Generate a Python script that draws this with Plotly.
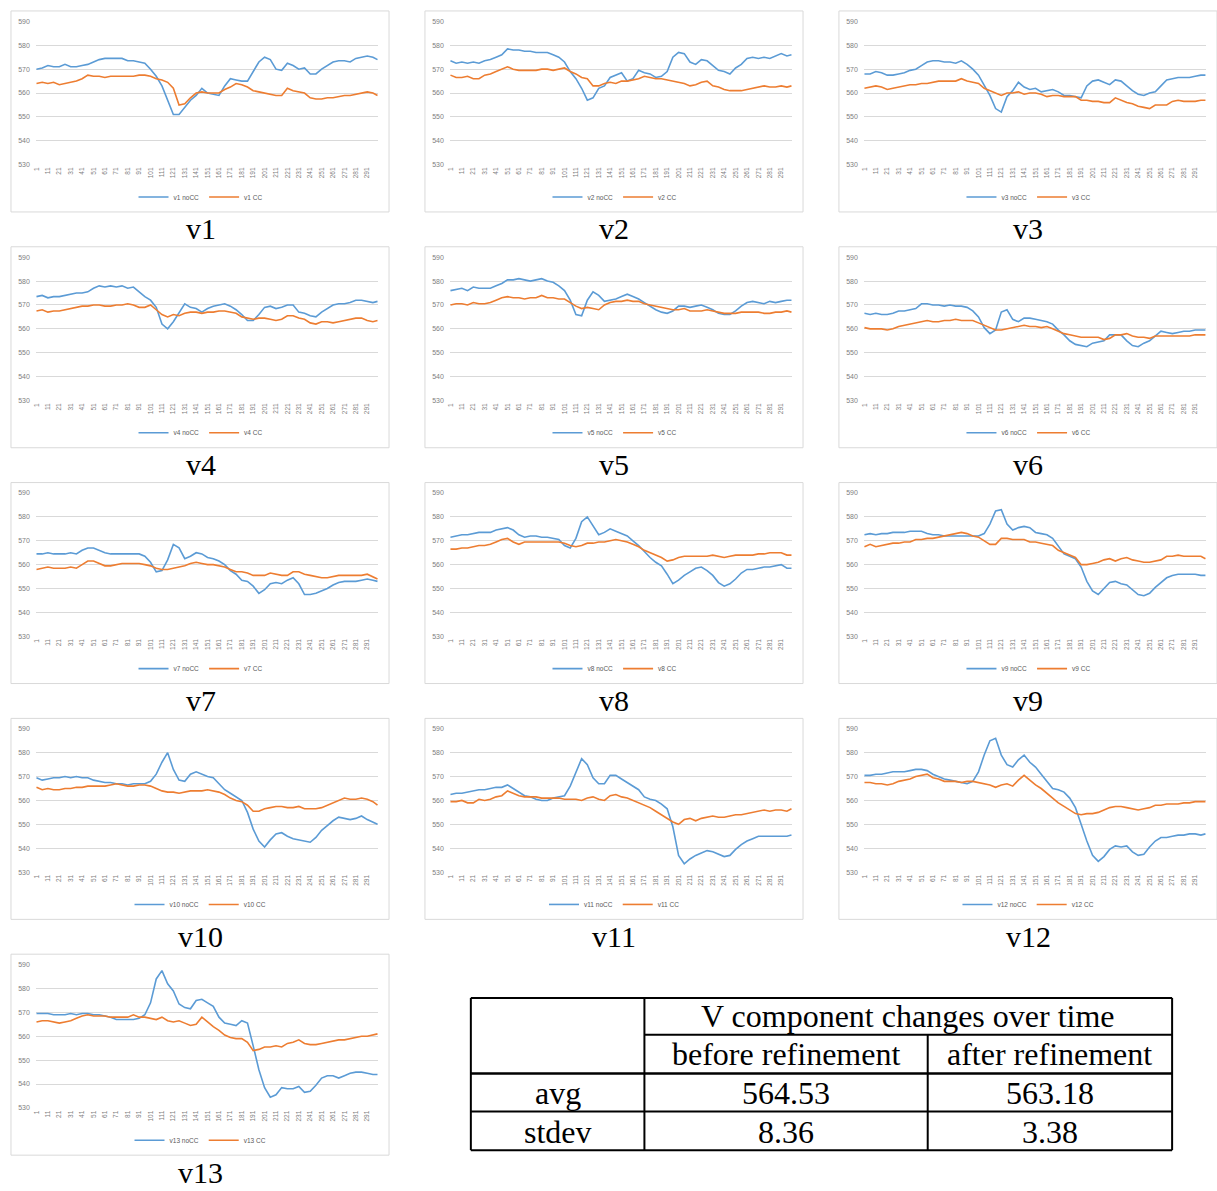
import plotly.graph_objects as go

W, H = 1217, 1191

# ---------------- data (every 5th sample) ----------------
SAMPLE_X = [1, 6, 11, 16, 21, 26, 31, 36, 41, 46,
            51, 56, 61, 66, 71, 76, 81, 86, 91, 96,
            101, 106, 111, 116, 121, 126, 131, 136, 141, 146,
            151, 156, 161, 166, 171, 176, 181, 186, 191, 196,
            201, 206, 211, 216, 221, 226, 231, 236, 241, 246,
            251, 256, 261, 266, 271, 276, 281, 286, 291, 296,
            300]
X_TICKS = [1, 11, 21, 31, 41, 51, 61, 71, 81, 91, 101, 111, 121, 131, 141,
           151, 161, 171, 181, 191, 201, 211, 221, 231, 241, 251, 261, 271, 281, 291]
Y_TICKS = [530, 540, 550, 560, 570, 580, 590]
PANEL_NAMES = ["v1", "v2", "v3", "v4", "v5", "v6", "v7", "v8", "v9", "v10", "v11", "v12", "v13"]

V1_NOCC = [570, 570.5, 571.5, 571, 571, 572, 571, 571, 571.5, 572,
           573, 574, 574.5, 574.5, 574.5, 574.5, 573.5, 573.5, 573, 572.5,
           570, 567, 563, 557, 551, 551, 554, 557, 559, 562,
           560, 559.5, 559, 563, 566, 565.5, 565, 565, 569, 573,
           575, 574, 570, 569.5, 572.5, 571.5, 570, 570.5, 568, 568,
           570, 571.5, 573, 573.5, 573.5, 573, 574.5, 575, 575.5, 575,
           574]
V1_CC = [564, 564.5, 564, 564.5, 563.5, 564, 564.5, 565, 566, 567.5,
         567, 567, 566.5, 567, 567, 567, 567, 567, 567.5, 567.5,
         567, 566, 565.5, 564.5, 562, 555, 555.5, 558, 560, 560.5,
         560, 560, 560, 561.5, 562.5, 564, 563.5, 562.5, 561, 560.5,
         560, 559.5, 559, 559, 562, 561, 560.5, 560, 558, 557.5,
         557.5, 558, 558, 558.5, 559, 559, 559.5, 560, 560.5, 560,
         559]
V2_NOCC = [573.5, 572.5, 573, 572.5, 573, 572.5, 573.5, 574, 575, 576,
           578.5, 578, 578, 577.5, 577.5, 577, 577, 577, 576, 575,
           573, 569, 566, 562, 557, 558, 562, 563, 566.5, 567.5,
           568.5, 565, 566, 569.5, 568.5, 568, 566.5, 567, 569, 575,
           577, 576.5, 573, 572, 574, 573.5, 571.5, 569.5, 569, 568,
           570.5, 572, 574.5, 575, 574.5, 575, 574.5, 575.5, 576.5, 575.5,
           576]
V2_CC = [567.5, 566.5, 566.5, 567, 566, 566, 567.5, 568, 569, 570,
         571, 570, 569.5, 569.5, 569.5, 569.5, 570, 570, 569.5, 570,
         570.5, 569, 568, 566.5, 566, 563, 563, 564, 564.5, 564,
         565, 565, 565.5, 566, 567, 566.5, 566, 566, 565.5, 565,
         564.5, 564, 563, 563.5, 564.5, 565, 563, 562.5, 561.5, 561,
         561, 561, 561.5, 562, 562.5, 563, 562.5, 562.5, 563, 562.5,
         563]
V3_NOCC = [568, 568, 569, 568.5, 567.5, 567.5, 568, 568.5, 569.5, 570,
           571.5, 573, 573.5, 573.5, 573, 573, 572.5, 573.5, 572, 570,
           567.5, 563, 559, 553.5, 552, 558.5, 561, 564.5, 562.5, 561.5,
           562, 560.5, 561, 561.5, 560.5, 559, 559, 558.5, 558, 563,
           565, 565.5, 564.5, 563.5, 565.5, 565, 563, 561, 559.5, 559,
           560, 560.5, 563, 565.5, 566, 566.5, 566.5, 566.5, 567, 567.5,
           567.5]
V3_CC = [562, 562.5, 563, 562.5, 561.5, 562, 562.5, 563, 563.5, 563.5,
         564, 564, 564.5, 565, 565, 565, 565, 566, 565, 564.5,
         564, 562, 561, 560, 559, 560, 560, 560.5, 559.5, 560,
         560, 559.5, 558.5, 559, 559, 558.5, 558.5, 558.5, 557, 557,
         556.5, 556.5, 556, 556, 558, 557, 556, 555.5, 554.5, 554,
         553.5, 555, 555, 555, 556.5, 557, 556.5, 556.5, 556.5, 557,
         557]
V4_NOCC = [573.5, 574, 573, 573.5, 573.5, 574, 574.5, 575, 575, 575.5,
           577, 578, 577.5, 578, 577.5, 578, 577, 577.5, 575.5, 573.5,
           572, 569, 562, 560, 563, 567, 570.5, 569, 568.5, 567,
           568.5, 569.5, 570, 570.5, 569.5, 568, 566, 563.5, 563.5, 566,
           569, 569.5, 568.5, 569, 570, 570, 567, 566.5, 565.5, 565,
           567, 568.5, 570, 570.5, 570.5, 571, 572, 572, 571.5, 571,
           571.5]
V4_CC = [567.5, 568, 567, 567.5, 567.5, 568, 568.5, 569, 569.5, 569.5,
         570, 570, 569.5, 569.5, 570, 570, 570.5, 570, 569, 569,
         570, 568, 566, 565, 566, 565.5, 566.5, 567, 567, 566.5,
         567, 567, 567.5, 567.5, 567, 566.5, 565, 564.5, 564, 564.5,
         564.5, 564, 563.5, 564, 565.5, 565.5, 564.5, 564, 562.5, 562,
         563, 563, 562.5, 563, 563.5, 564, 564.5, 564.5, 563.5, 563,
         563.5]
V5_NOCC = [576, 576.5, 577, 576, 577.5, 577, 577, 577, 578, 579,
           580.5, 580.5, 581, 580.5, 580, 580.5, 581, 580, 579.5, 578,
           576, 572, 566, 565.5, 572, 575.5, 574, 571.5, 572, 572.5,
           573.5, 574.5, 573.5, 572.5, 571, 569.5, 568, 567, 566.5, 567.5,
           569.5, 569.5, 569, 569.5, 570, 569, 568, 566.5, 566, 566,
           567.5, 569.5, 571, 571.5, 571, 570.5, 571.5, 571, 571.5, 572,
           572]
V5_CC = [570, 570.5, 570.5, 570, 571, 570.5, 570.5, 571, 572, 573,
         573.5, 573, 573, 572.5, 573, 573, 574, 573, 573, 572.5,
         572.5, 571, 569.5, 568.5, 569, 568.5, 568, 570, 571, 571.5,
         571.5, 572, 571.5, 571.5, 570.5, 570, 569.5, 569, 568.5, 568,
         568, 568.5, 567.5, 567.5, 567.5, 568, 567.5, 567, 566.5, 566.5,
         566.5, 567, 567, 567, 567, 566.5, 566.5, 567, 567, 567.5,
         567]
V6_NOCC = [566.5, 566, 566.5, 566, 566, 566.5, 567.5, 567.5, 568, 568.5,
           570.5, 570.5, 570, 570, 569.5, 570, 569.5, 569.5, 569, 567.5,
           565, 560.5, 558, 559.5, 567, 568, 564, 563, 564.5, 564.5,
           564, 563.5, 563, 562, 559.5, 557.5, 555, 553.5, 553, 552.5,
           554, 554.5, 555, 557.5, 557.5, 557.5, 555, 553, 552.5, 554,
           555, 557, 559, 558.5, 558, 558.5, 559, 559, 559.5, 559.5,
           559.5]
V6_CC = [560.5, 560, 560, 560, 559.5, 560, 561, 561.5, 562, 562.5,
         563, 563.5, 563, 563, 563.5, 563.5, 564, 563.5, 563.5, 563.5,
         562.5, 561.5, 560.5, 559.5, 559.5, 560, 560.5, 561, 561.5, 561,
         561, 560.5, 561, 560, 559, 558, 557.5, 557, 556.5, 556.5,
         556.5, 556.5, 555.5, 556, 557.5, 557.5, 558, 557, 556.5, 556.5,
         556, 557, 557, 557, 557, 557, 557, 557, 557.5, 557.5,
         557.5]
V7_NOCC = [564.5, 564.5, 565, 564.5, 564.5, 564.5, 565, 564.5, 566, 567,
           567, 566, 565, 564.5, 564.5, 564.5, 564.5, 564.5, 564.5, 563.5,
           561, 557, 557.5, 562, 568.5, 567, 562.5, 563.5, 565, 564.5,
           563, 562.5, 561.5, 560, 557.5, 556, 553.5, 553, 551, 548,
           549.5, 552, 552.5, 552, 553.5, 554.5, 552, 547.5, 547.5, 548,
           549, 550, 551.5, 552.5, 553, 553, 553, 553.5, 554, 553.5,
           553]
V7_CC = [558, 558.5, 559, 558.5, 558.5, 558.5, 559, 558.5, 560, 561.5,
         561.5, 560.5, 559.5, 559.5, 560, 560.5, 560.5, 560.5, 560.5, 560,
         559.5, 558.5, 558, 558, 558.5, 559, 559.5, 560.5, 561, 560.5,
         560, 560, 559.5, 559, 558, 557, 557, 556.5, 555.5, 555.5,
         555.5, 556.5, 556, 555.5, 555.5, 557, 557, 556, 555.5, 555,
         554.5, 554.5, 555, 555.5, 555.5, 555.5, 555.5, 555.5, 556, 555,
         554]
V8_NOCC = [571.5, 572, 572.5, 572.5, 573, 573.5, 573.5, 573.5, 574.5, 575,
           575.5, 574.5, 572.5, 571.5, 572, 572, 571.5, 571.5, 571, 570.5,
           568, 567, 571, 578, 580, 576, 572.5, 573.5, 575, 574,
           573, 572, 570, 568, 565.5, 563, 561, 559.5, 556, 552,
           553.5, 555.5, 557, 558.5, 559, 557.5, 555.5, 552.5, 551, 552,
           554, 556.5, 558, 558, 558.5, 559, 559, 559.5, 560, 558.5,
           558.5]
V8_CC = [566.5, 566.5, 567, 567, 567.5, 568, 568, 568.5, 569.5, 570.5,
         571, 569.5, 568.5, 569.5, 569.5, 569.5, 569.5, 569.5, 569.5, 569.5,
         569, 568, 567.5, 568, 569, 569, 569.5, 569.5, 570, 570.5,
         570, 569.5, 568.5, 567.5, 566, 565, 564, 563, 561.5, 562,
         563, 563.5, 563.5, 563.5, 563.5, 563.5, 564, 563.5, 563, 563.5,
         564, 564, 564, 564, 564.5, 564.5, 565, 565, 565, 564,
         564]
V9_NOCC = [572.5, 573, 572.5, 573, 573, 573.5, 573.5, 573.5, 574, 574,
           574, 573, 572.5, 572.5, 572, 572, 572, 572, 572, 572,
           572, 573, 577, 582.5, 583, 577, 574.5, 575.5, 576, 575.5,
           573.5, 573, 572.5, 571, 567.5, 564.5, 563.5, 562.5, 559, 553,
           549, 547.5, 550, 552.5, 553, 552, 551.5, 549.5, 547.5, 547,
           548, 550.5, 552.5, 554.5, 555.5, 556, 556, 556, 556, 555.5,
           555.5]
V9_CC = [567.5, 568.5, 567.5, 568, 568.5, 569, 569, 569.5, 569.5, 570.5,
         570.5, 571, 571, 571.5, 572, 572.5, 573, 573.5, 573, 572,
         571.5, 570, 568.5, 568.5, 571, 571, 570.5, 570.5, 570.5, 569.5,
         569.5, 569, 568.5, 568, 566, 565, 564, 563, 560, 560,
         560.5, 561, 562, 562.5, 561.5, 562.5, 563, 562, 561.5, 561,
         561, 561.5, 562, 563.5, 563.5, 564, 563.5, 563.5, 563.5, 563.5,
         562.5]
V10_NOCC = [569.5, 568.5, 569, 569.5, 569.5, 570, 569.5, 570, 569.5, 569.5,
            568.5, 568, 567.5, 567.5, 567, 567, 566.5, 567, 567, 567,
            568, 571, 576, 580, 573, 568.5, 568, 571, 572, 571,
            570, 569.5, 567, 564.5, 563, 561.5, 560, 555, 548, 543,
            540.5, 543.5, 546, 546.5, 545, 544, 543.5, 543, 542.5, 544.5,
            547.5, 549.5, 551.5, 553, 552.5, 552, 552.5, 553.5, 552, 551,
            550]
V10_CC = [565.5, 564.5, 565, 564.5, 564.5, 565, 565, 565.5, 565.5, 566,
          566, 566, 566, 566.5, 567, 566.5, 566, 566, 566.5, 566.5,
          566, 565, 564, 563.5, 563.5, 563, 563.5, 564, 564, 564,
          564.5, 564, 563.5, 562.5, 561, 560, 559.5, 558, 555.5, 555.5,
          556.5, 557, 557.5, 557.5, 557, 557, 557.5, 556.5, 556.5, 556.5,
          557, 558, 559, 560, 561, 560.5, 560.5, 561, 560.5, 559.5,
          558]
V11_NOCC = [562.5, 563, 563, 563.5, 564, 564.5, 564.5, 565, 565.5, 565.5,
            566.5, 565, 563.5, 562, 561.5, 560.5, 560, 560, 561, 561.5,
            562, 566, 571.5, 577.5, 575, 569.5, 567, 567, 570.5, 570.5,
            569, 567.5, 566, 564.5, 561.5, 560.5, 560, 558.5, 556.5, 549,
            537, 533.5, 535.5, 537, 538, 539, 538.5, 537.5, 536.5, 537,
            539.5, 541.5, 543, 544, 545, 545, 545, 545, 545, 545,
            545.5]
V11_CC = [559.5, 559.5, 560, 559, 559, 560.5, 560, 560.5, 561.5, 562,
          564, 563, 562, 561.5, 561.5, 561.5, 561, 561, 561, 561,
          560.5, 560.5, 560.5, 560, 561, 561.5, 560.5, 560, 562, 562.5,
          561.5, 561, 560, 559, 558, 557, 555.5, 554, 552.5, 551,
          550, 552, 552.5, 551.5, 552.5, 553, 553.5, 553, 553, 553.5,
          554, 554, 554.5, 555, 555.5, 556, 555.5, 556, 556, 555.5,
          556.5]
V12_NOCC = [570.5, 570.5, 571, 571, 571.5, 572, 572, 572, 572.5, 573,
            573, 572.5, 571, 570, 569, 568.5, 568, 567.5, 567, 568,
            572, 579, 585, 586, 579, 575, 574, 577, 579, 576,
            574, 571, 568, 565, 564.5, 563.5, 561, 557, 550, 543,
            537, 534.5, 536.5, 539.5, 541, 540.5, 541, 538.5, 537, 537.5,
            540.5, 543, 544.5, 544.5, 545, 545.5, 545.5, 546, 546, 545.5,
            546]
V12_CC = [567.5, 567.5, 567, 567, 566.5, 567, 568, 568.5, 569, 570,
          570.5, 571, 569.5, 569, 568, 568, 568, 567.5, 568, 568,
          567.5, 567, 566.5, 565.5, 566.5, 567, 566, 568.5, 570.5, 568.5,
          566.5, 565, 563, 561, 559, 557.5, 556, 554.5, 554, 554.5,
          554.5, 555, 556, 557, 557.5, 557.5, 557, 556.5, 556, 556.5,
          557, 558, 558, 558.5, 558.5, 558.5, 559, 559, 559.5, 559.5,
          559.5]
V13_NOCC = [569.5, 569.5, 569.5, 569, 569, 569, 569.5, 569, 569.5, 569.5,
            569, 569, 568.5, 568, 567, 567, 567, 567, 567.5, 569,
            574, 584, 587.5, 582, 579, 573.5, 572, 571.5, 575, 575.5,
            574, 572.5, 568, 565.5, 565, 564.5, 566.5, 565.5, 556, 546,
            538.5, 534.5, 535.5, 538.5, 538, 538, 539, 536.5, 537, 539.5,
            542.5, 543.5, 543.5, 542.5, 543.5, 544.5, 545, 545, 544.5, 544,
            544]
V13_CC = [566, 566.5, 566.5, 566, 565.5, 566, 566.5, 567.5, 568.5, 569,
          568.5, 568.5, 568.5, 568, 568, 568, 568, 569, 568, 568,
          567.5, 567, 568, 566.5, 566, 566.5, 565.5, 564.5, 565, 568,
          566, 564, 562.5, 560.5, 559.5, 559, 559, 557.5, 554, 554.5,
          555.5, 555.5, 556, 555.5, 557, 557.5, 558.5, 557, 556.5, 556.5,
          557, 557.5, 558, 558.5, 558.5, 559, 559.5, 560, 560, 560.5,
          561]

TABLE_TITLE = "V component changes over time"
TABLE_COLS = ["before refinement", "after refinement"]
TABLE_ROWS = ["avg", "stdev"]
TABLE_BEFORE = ["564.53", "8.36"]
TABLE_AFTER = ["563.18", "3.38"]

SERIES = [(V1_NOCC, V1_CC), (V2_NOCC, V2_CC), (V3_NOCC, V3_CC), (V4_NOCC, V4_CC),
          (V5_NOCC, V5_CC), (V6_NOCC, V6_CC), (V7_NOCC, V7_CC), (V8_NOCC, V8_CC),
          (V9_NOCC, V9_CC), (V10_NOCC, V10_CC), (V11_NOCC, V11_CC), (V12_NOCC, V12_CC),
          (V13_NOCC, V13_CC)]

# ---------------- layout helpers ----------------
COL_X = [8, 423, 838]
ROW_Y = [8, 245, 482, 719, 956]
PW, PH = 379, 202
BLUE = "#5B9BD5"
ORANGE = "#ED7D31"
GRID = "#d9d9d9"
TICKC = "#808080"


def px(x):
    return x / W


def py(y):
    return 1 - y / H


fig = go.Figure()
layout = dict(width=W, height=H, autosize=False,
              margin=dict(l=0, r=0, t=0, b=0),
              paper_bgcolor="white", plot_bgcolor="white",
              showlegend=True, hovermode=False)
shapes = []
annotations = []

for i, (name, (nocc, cc)) in enumerate(zip(PANEL_NAMES, SERIES)):
    n = i + 1
    col, row = i % 3, i // 3
    x0, y0 = COL_X[col], ROW_Y[row]
    ax = "" if n == 1 else str(n)
    lg = "legend" if n == 1 else f"legend{n}"
    fig.add_trace(go.Scatter(x=SAMPLE_X, y=nocc, mode="lines", name=f"{name} noCC",
                             line=dict(color=BLUE, width=1.6),
                             xaxis=f"x{ax}", yaxis=f"y{ax}", legend=lg))
    fig.add_trace(go.Scatter(x=SAMPLE_X, y=cc, mode="lines", name=f"{name} CC",
                             line=dict(color=ORANGE, width=1.6),
                             xaxis=f"x{ax}", yaxis=f"y{ax}", legend=lg))
    layout[f"xaxis{ax}"] = dict(domain=[px(x0 + 25), px(x0 + 368)], anchor=f"y{ax}",
                                range=[0.5, 300.5], tickmode="array",
                                tickvals=X_TICKS, ticktext=[str(t) for t in X_TICKS],
                                tickangle=-90, showgrid=False, zeroline=False,
                                showline=False, ticks="",
                                tickfont=dict(size=6.5, color=TICKC, family="Liberation Sans"),
                                fixedrange=True)
    layout[f"yaxis{ax}"] = dict(domain=[py(y0 + 155), py(y0 + 10)], anchor=f"x{ax}",
                                range=[529.8, 590.2], tickmode="array",
                                tickvals=Y_TICKS, showgrid=True, gridcolor=GRID,
                                gridwidth=1, zeroline=False, showline=False, ticks="",
                                ticklabelstandoff=5,
                                tickfont=dict(size=7, color=TICKC, family="Liberation Sans"),
                                fixedrange=True)
    layout[lg] = dict(x=px(x0 + 190), xanchor="center", y=py(y0 + 187), yanchor="middle",
                      orientation="h", bgcolor="rgba(0,0,0,0)",
                      font=dict(size=6.5, color="#595959", family="Liberation Sans"),
                      itemwidth=30, tracegroupgap=0)
    shapes.append(dict(type="rect", xref="paper", yref="paper",
                       x0=px(x0), x1=px(x0 + PW), y0=py(y0 + PH), y1=py(y0),
                       line=dict(color=GRID, width=1), fillcolor="rgba(0,0,0,0)"))
    annotations.append(dict(text=name, xref="paper", yref="paper",
                            x=px(x0 + 190), y=py(y0 + 219), showarrow=False,
                            xanchor="center", yanchor="middle",
                            font=dict(family="Liberation Serif", size=30, color="black")))

# ---------------- table ----------------
TL, TR, TT, TB = 469, 1172, 1000, 1153
C1, C2 = 643, 927
R1, R2, R3 = 1037, 1076, 1114


def seg(xa, ya, xb, yb, w=2):
    shapes.append(dict(type="line", xref="paper", yref="paper",
                       x0=px(xa), y0=py(ya), x1=px(xb), y1=py(yb),
                       line=dict(color="black", width=w)))


seg(TL, TT, TR, TT)
seg(TL, TB, TR, TB)
seg(TL, TT, TL, TB)
seg(TR, TT, TR, TB)
seg(C1, TT, C1, TB)
seg(C2, R1, C2, TB)
seg(C1, R1, TR, R1)
seg(TL, R2, TR, R2, 2.5)
seg(TL, R3, TR, R3)

TFONT = dict(family="Liberation Serif", size=32, color="black")


def txt(s, xc, yc):
    annotations.append(dict(text=s, xref="paper", yref="paper", x=px(xc), y=py(yc),
                            showarrow=False, xanchor="center", yanchor="middle",
                            font=TFONT))


txt(TABLE_TITLE, (C1 + TR) / 2, (TT + R1) / 2)
txt(TABLE_COLS[0], (C1 + C2) / 2, (R1 + R2) / 2)
txt(TABLE_COLS[1], (C2 + TR) / 2, (R1 + R2) / 2)
for k, (r, b, a) in enumerate(zip(TABLE_ROWS, TABLE_BEFORE, TABLE_AFTER)):
    yc = (R2 + R3) / 2 + 1 if k == 0 else (R3 + TB) / 2 + 1
    txt(r, (TL + C1) / 2, yc)
    txt(b, (C1 + C2) / 2, yc)
    txt(a, (C2 + TR) / 2, yc)

layout["shapes"] = shapes
layout["annotations"] = annotations
fig.update_layout(**layout)
fig.write_html("out.html", config={"displayModeBar": False, "staticPlot": True},
               post_script="document.body.style.margin='0px';"
                           "document.body.style.padding='0px';"
                           "document.body.style.overflow='hidden';")
